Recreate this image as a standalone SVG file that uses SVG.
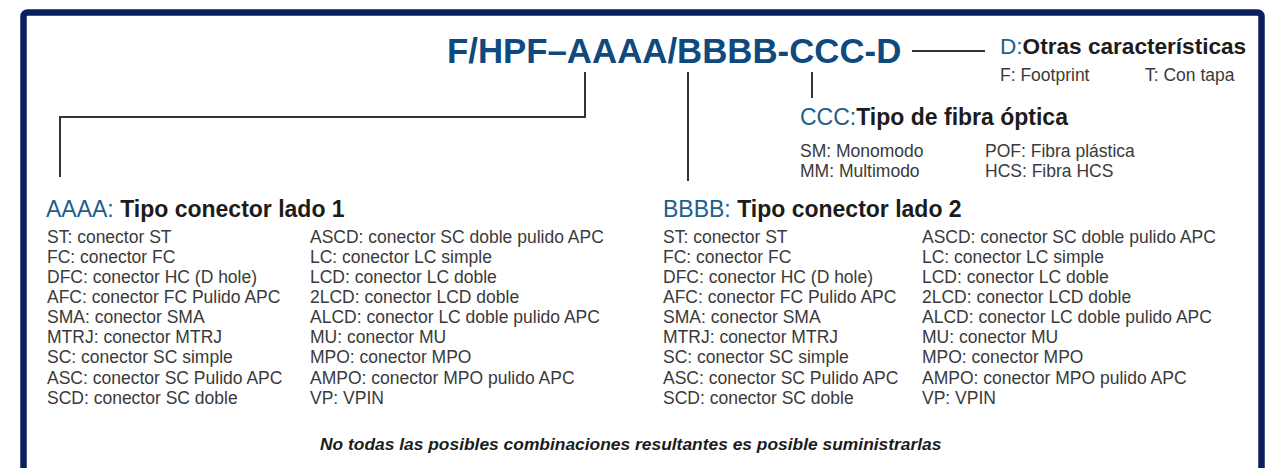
<svg xmlns="http://www.w3.org/2000/svg" width="1268" height="468" viewBox="0 0 1268 468">
<style>
text{font-family:"Liberation Sans",Arial,sans-serif}
.title{font-size:34.8px;font-weight:bold;fill:#0f4a7e}
.key{fill:#1d5f8c;font-weight:normal}
.head{font-weight:bold;fill:#1c1c1c}
.h1{font-size:23px}
.item{font-size:17.5px;fill:#3a3a3a}
.small{font-size:17.5px;fill:#3a3a3a}
.conn{fill:none;stroke:#333;stroke-width:2}
.note{font-size:17.4px;font-weight:bold;font-style:italic;fill:#1c1c1c}
</style>
<rect x="23.5" y="12.5" width="1238" height="480" rx="4" fill="#fff" stroke="#0b1f5e" stroke-width="6.5"/>
<g id="title"><text class="title" x="447" y="63">F/HPF–AAAA/BBBB-CCC-D</text></g>
<g id="connectors">
<polyline class="conn" points="585,72 585,117 60,117 60,177"/>
<line class="conn" x1="688" y1="72" x2="688" y2="181"/>
<line class="conn" x1="812" y1="72" x2="812" y2="98"/>
<line class="conn" x1="912" y1="51" x2="985" y2="51"/>
</g>
<g id="node-d">
<text class="head" style="font-size:22.6px" x="1000" y="54"><tspan class="key">D:</tspan>Otras características</text>
<text class="small" x="1000" y="81">F: Footprint</text>
<text class="small" x="1145" y="81">T: Con tapa</text>
</g>
<g id="node-ccc">
<text class="h1 head" x="800" y="125"><tspan class="key">CCC:</tspan>Tipo de fibra óptica</text>
<text class="small" x="800" y="157">SM: Monomodo</text>
<text class="small" x="800" y="177">MM: Multimodo</text>
<text class="small" x="985" y="157">POF: Fibra plástica</text>
<text class="small" x="985" y="177">HCS: Fibra HCS</text>
</g>
<g id="node-aaaa">
<text class="h1 head" x="46" y="217"><tspan class="key">AAAA:</tspan> Tipo conector lado 1</text>
<g class="item">
<text x="47" y="243">ST: conector ST</text>
<text x="47" y="263">FC: conector FC</text>
<text x="47" y="283">DFC: conector HC (D hole)</text>
<text x="47" y="303">AFC: conector FC Pulido APC</text>
<text x="47" y="323">SMA: conector SMA</text>
<text x="47" y="343">MTRJ: conector MTRJ</text>
<text x="47" y="363">SC: conector SC simple</text>
<text x="47" y="384">ASC: conector SC Pulido APC</text>
<text x="47" y="404">SCD: conector SC doble</text>
<text x="310" y="243">ASCD: conector SC doble pulido APC</text>
<text x="310" y="263">LC: conector LC simple</text>
<text x="310" y="283">LCD: conector LC doble</text>
<text x="310" y="303">2LCD: conector LCD doble</text>
<text x="310" y="323">ALCD: conector LC doble pulido APC</text>
<text x="310" y="343">MU: conector MU</text>
<text x="310" y="363">MPO: conector MPO</text>
<text x="310" y="384">AMPO: conector MPO pulido APC</text>
<text x="310" y="404">VP: VPIN</text>
</g>
</g>
<g id="node-bbbb">
<text class="h1 head" x="663" y="217"><tspan class="key">BBBB:</tspan> Tipo conector lado 2</text>
<g class="item">
<text x="663" y="243">ST: conector ST</text>
<text x="663" y="263">FC: conector FC</text>
<text x="663" y="283">DFC: conector HC (D hole)</text>
<text x="663" y="303">AFC: conector FC Pulido APC</text>
<text x="663" y="323">SMA: conector SMA</text>
<text x="663" y="343">MTRJ: conector MTRJ</text>
<text x="663" y="363">SC: conector SC simple</text>
<text x="663" y="384">ASC: conector SC Pulido APC</text>
<text x="663" y="404">SCD: conector SC doble</text>
<text x="922" y="243">ASCD: conector SC doble pulido APC</text>
<text x="922" y="263">LC: conector LC simple</text>
<text x="922" y="283">LCD: conector LC doble</text>
<text x="922" y="303">2LCD: conector LCD doble</text>
<text x="922" y="323">ALCD: conector LC doble pulido APC</text>
<text x="922" y="343">MU: conector MU</text>
<text x="922" y="363">MPO: conector MPO</text>
<text x="922" y="384">AMPO: conector MPO pulido APC</text>
<text x="922" y="404">VP: VPIN</text>
</g>
</g>
<g id="note"><text class="note" x="320" y="450">No todas las posibles combinaciones resultantes es posible suministrarlas</text></g>
</svg>
